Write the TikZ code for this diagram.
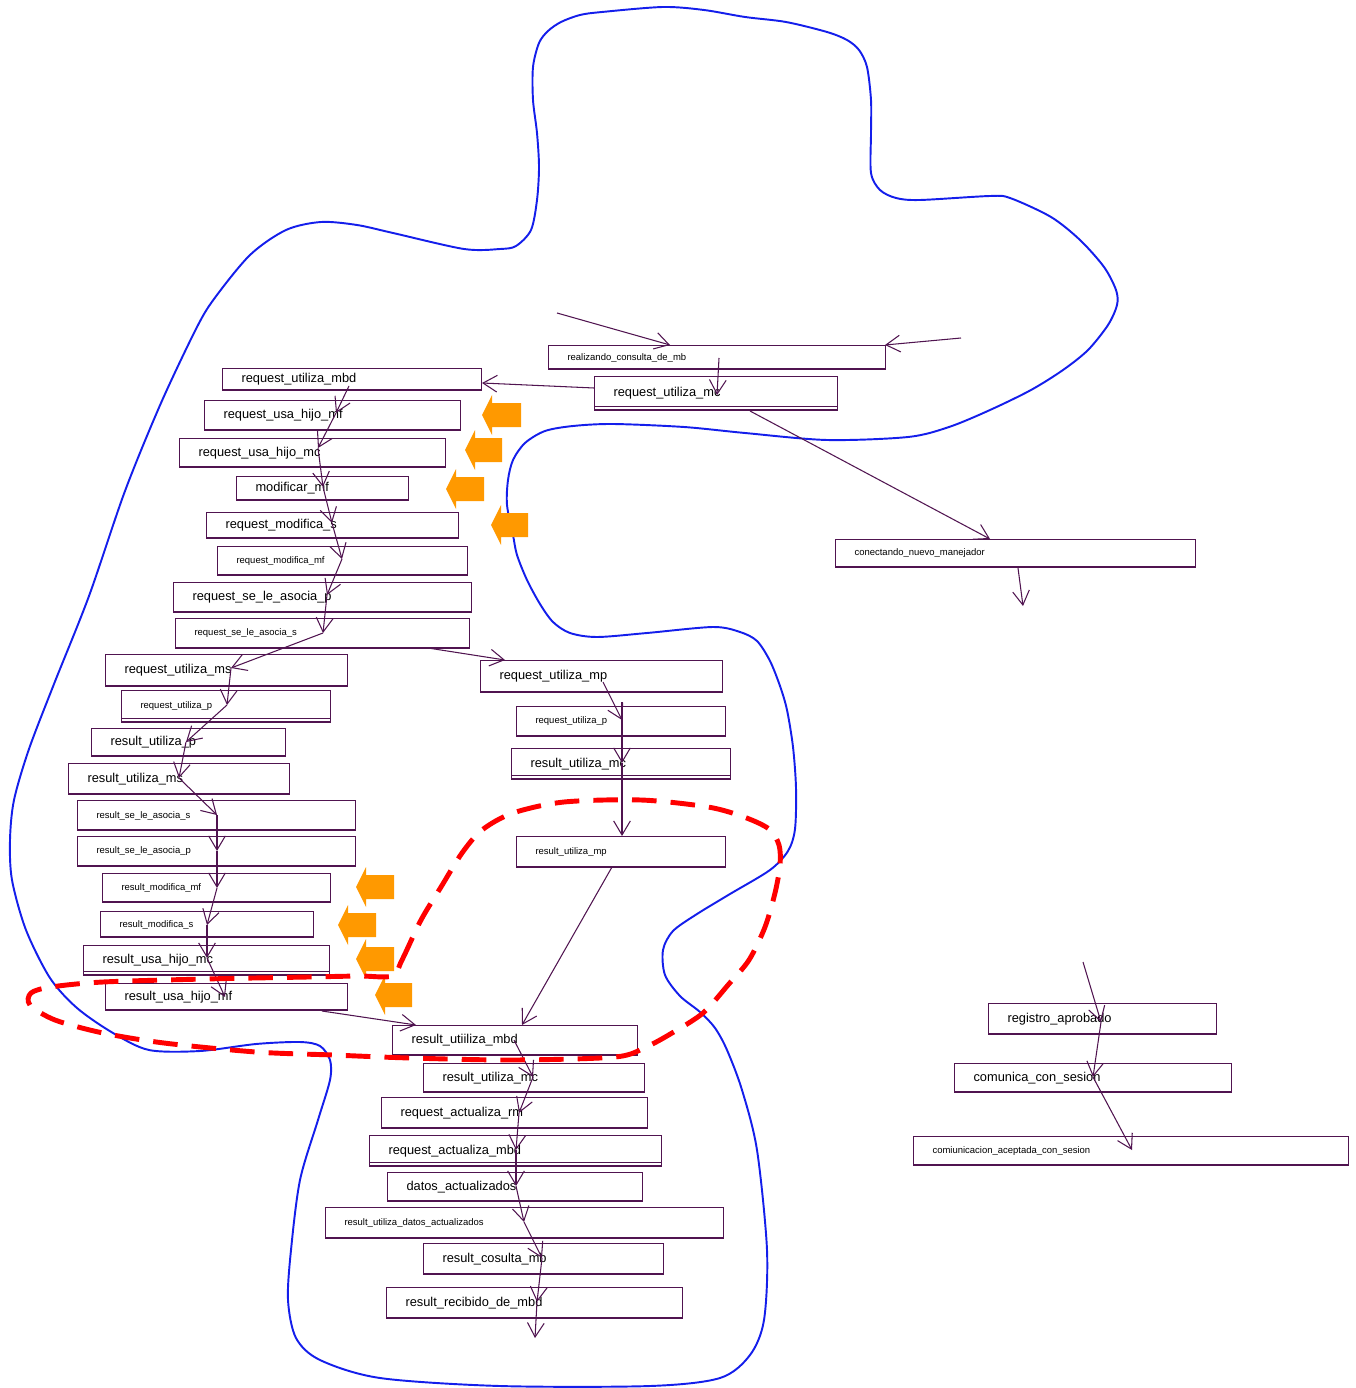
\documentclass[tikz,border=0pt]{standalone}
\usepackage{fontspec}
\setmainfont{Liberation Sans}
\usetikzlibrary{arrows.meta}
\definecolor{linha}{RGB}{80,20,80}
\definecolor{laranja}{RGB}{255,153,0}
\definecolor{azul}{RGB}{20,30,235}
\newcommand{\grande}{\fontsize{7.3}{8.5}\selectfont}
\newcommand{\miuda}{\fontsize{5.4}{6.5}\selectfont}

\begin{document}
\begin{tikzpicture}[x=0.02cm, y=-0.02cm,
    caixa/.style 2 args={draw=linha, line width=0.6pt, anchor=north west, align=left,
        inner xsep=0.38cm, inner ysep=0pt, text width={(#1-38)*0.02cm},
        minimum height={#2*0.02cm}, font=\grande,
        path picture={\draw[linha, line width=1.2pt] (path picture bounding box.south west) -- (path picture bounding box.south east);}},
    miuda/.style={font=\miuda},
    dupla/.style={path picture={
        \draw[linha, line width=1.2pt] (path picture bounding box.south west) -- (path picture bounding box.south east);
        \draw[linha, line width=0.6pt] ([yshift=2.3pt]path picture bounding box.south west) -- ([yshift=2.3pt]path picture bounding box.south east);}},
    seta/.style={draw=linha, line width=0.6pt, -{Straight Barb[length=8pt,width=9.5pt]}},
    bloco/.style={fill=laranja},
    contorno/.style={draw=azul, line width=1.1pt},
    grupo/.style={draw=red, line width=2.8pt, dash pattern=on 14pt off 8pt}]
    \useasboundingbox (0,0) rectangle (1355,1388);

    % Linha azul
    \draw[contorno] plot[smooth cycle, tension=0.5] coordinates {
        (321,222) (357,225) (393,233) (464,249) (500,249) (516,246) (531,230) (537,200)
        (539,167) (537,133) (533,100) (533,67) (539,43) (548,31) (561,22) (580,15)
        (602,12) (663,7) (704,10) (745,17) (786,22) (827,32) (847,40) (859,50) (867,67)
        (871,100) (871,133) (871,173) (880,190) (896,198) (920,200) (990,196) (1010,198)
        (1051,217) (1080,240) (1104,267) (1116,290) (1117,305) (1108,325) (1088,350)
        (1063,370) (1031,390) (990,410) (949,427) (908,437) (827,440) (745,433) (684,427)
        (613,424) (573,426) (545,431) (525,443) (513,460) (508,480) (507,505) (513,535)
        (517,555) (527,580) (540,604) (553,622) (570,633) (597,637) (647,633) (713,627)
        (740,632) (757,641) (770,661) (780,686) (787,710) (793,747) (796,788) (795,829)
        (788,851) (770,870) (730,894) (697,914) (673,931) (663,950) (665,975) (680,996)
        (700,1012) (715,1028) (727,1050) (742,1090) (757,1150) (767,1250) (764,1320)
        (750,1355) (720,1378) (650,1386) (500,1386) (380,1378) (320,1360) (296,1338)
        (288,1300) (291,1250) (300,1180) (318,1120) (330,1080) (330,1060) (320,1046)
        (300,1042) (256,1044) (200,1051) (149,1050) (113,1033) (77,1008) (50,978)
        (26,930) (12,880) (10,840) (14,800) (29,749) (54,684) (89,596) (125,491)
        (161,403) (196,329) (214,299) (250,255) (286,230)};

    % Estados
    \node[caixa={337}{24}, miuda] (realiza) at (548,345) {realizando\_consulta\_de\_mb};
    \node[caixa={243}{34}, dupla] (rumc) at (594,376) {request\_utiliza\_mc};
    \node[caixa={360}{28}, miuda] (conect) at (835,539) {conectando\_nuevo\_manejador};
    \node[caixa={259}{22}] (rumbd) at (222,368) {request\_utiliza\_mbd};
    \node[caixa={256}{30}] (ruhmf) at (204,400) {request\_usa\_hijo\_mf};
    \node[caixa={266}{29}] (ruhmc) at (179,438) {request\_usa\_hijo\_mc};
    \node[caixa={172}{24}] (modmf) at (236,476) {modificar\_mf};
    \node[caixa={252}{26}] (rmods) at (206,512) {request\_modifica\_s};
    \node[caixa={250}{29}, miuda] (rmodmf) at (217,546) {request\_modifica\_mf};
    \node[caixa={298}{30}] (rsap) at (173,582) {request\_se\_le\_asocia\_p};
    \node[caixa={294}{30}, miuda] (rsas) at (175,618) {request\_se\_le\_asocia\_s};
    \node[caixa={242}{32}] (rums) at (105,654) {request\_utiliza\_ms};
    \node[caixa={209}{32}, miuda, dupla] (rup) at (121,690) {request\_utiliza\_p};
    \node[caixa={194}{28}] (resup) at (91,728) {result\_utiliza\_p};
    \node[caixa={221}{31}] (resums) at (68,763) {result\_utiliza\_ms};
    \node[caixa={278}{30}, miuda] (ressas) at (77,800) {result\_se\_le\_asocia\_s};
    \node[caixa={278}{30}, miuda] (ressap) at (77,836) {result\_se\_le\_asocia\_p};
    \node[caixa={228}{29}, miuda] (resmodmf) at (102,873) {result\_modifica\_mf};
    \node[caixa={213}{26}, miuda] (resmods) at (100,911) {result\_modifica\_s};
    \node[caixa={246}{30}, dupla] (resuhmc) at (83,945) {result\_usa\_hijo\_mc};
    \node[caixa={242}{27}] (resuhmf) at (105,983) {result\_usa\_hijo\_mf};
    \node[caixa={242}{32}] (rump) at (480,660) {request\_utiliza\_mp};
    \node[caixa={209}{30}, miuda] (rupd) at (516,706) {request\_utiliza\_p};
    \node[caixa={219}{31}, dupla] (resumcd) at (511,748) {result\_utiliza\_mc};
    \node[caixa={209}{31}, miuda] (resumpd) at (516,836) {result\_utiliza\_mp};
    \node[caixa={245}{30}] (resumbd) at (392,1025) {result\_utiiliza\_mbd};
    \node[caixa={221}{29}] (resumc) at (423,1063) {result\_utiliza\_mc};
    \node[caixa={266}{31}] (racrm) at (381,1097) {request\_actualiza\_rm};
    \node[caixa={292}{31}, dupla] (racmbd) at (369,1135) {request\_actualiza\_mbd};
    \node[caixa={255}{29}] (datos) at (387,1172) {datos\_actualizados};
    \node[caixa={398}{31}, miuda] (resdatos) at (325,1207) {result\_utiliza\_datos\_actualizados};
    \node[caixa={240}{31}] (rescons) at (423,1243) {result\_cosulta\_mb};
    \node[caixa={296}{31}] (resrec) at (386,1287) {result\_recibido\_de\_mbd};
    \node[caixa={228}{31}] (regis) at (988,1003) {registro\_aprobado};
    \node[caixa={277}{29}] (comun) at (954,1063) {comunica\_con\_sesion};
    \node[caixa={435}{29}, miuda] (comiun) at (913,1136) {comiunicacion\_aceptada\_con\_sesion};

    % Pontas soltas
    \coordinate (ini1) at (557,313);
    \coordinate (ini2) at (961,338);
    \coordinate (fim1) at (1023,606);
    \coordinate (ini3) at (1083,962);
    \coordinate (fim2) at (535,1338);

    % Setas do topo
    \draw[seta] (ini1) -- ([shift={(122,0)}]realiza.north west);
    \draw[seta] (ini2) -- ([shift={(337,0)}]realiza.north west);
    \draw[seta] ([shift={(171,13)}]realiza.north west) -- ([shift={(123,19)}]rumc.north west);
    \draw[seta] ([shift={(0,12)}]rumc.north west) -- ([shift={(260,15)}]rumbd.north west);
    \draw[seta] ([shift={(156,35)}]rumc.north west) -- ([shift={(155,0)}]conect.north west);
    \draw[seta] ([shift={(183,29)}]conect.north west) -- (fim1);

    % Cadeia da esquerda
    \draw[seta] ([shift={(127,18)}]rumbd.north west) -- ([shift={(132,13)}]ruhmf.north west);
    \draw[seta] ([shift={(132,13)}]ruhmf.north west) -- ([shift={(139,10)}]ruhmc.north west);
    \draw[seta] ([shift={(139,10)}]ruhmc.north west) -- ([shift={(87,11)}]modmf.north west);
    \draw[seta] ([shift={(87,11)}]modmf.north west) -- ([shift={(126,11)}]rmods.north west);
    \draw[seta] ([shift={(126,11)}]rmods.north west) -- ([shift={(125,13)}]rmodmf.north west);
    \draw[seta] ([shift={(125,13)}]rmodmf.north west) -- ([shift={(154,13)}]rsap.north west);
    \draw[seta] ([shift={(154,13)}]rsap.north west) -- ([shift={(148,15)}]rsas.north west);
    \draw[seta] ([shift={(148,15)}]rsas.north west) -- ([shift={(126,14)}]rums.north west);
    \draw[seta] ([shift={(126,14)}]rums.north west) -- ([shift={(106,15)}]rup.north west);
    \draw[seta] ([shift={(106,15)}]rup.north west) -- ([shift={(95,14)}]resup.north west);
    \draw[seta] ([shift={(95,14)}]resup.north west) -- ([shift={(111,15)}]resums.north west);
    \draw[seta] ([shift={(111,15)}]resums.north west) -- ([shift={(140,15)}]ressas.north west);
    \draw[seta] ([shift={(140,15)}]ressas.north west) -- ([shift={(140,15)}]ressap.north west);
    \draw[seta] ([shift={(140,15)}]ressap.north west) -- ([shift={(115,15)}]resmodmf.north west);
    \draw[seta] ([shift={(115,15)}]resmodmf.north west) -- ([shift={(107,14)}]resmods.north west);
    \draw[seta] ([shift={(107,14)}]resmods.north west) -- ([shift={(124,13)}]resuhmc.north west);
    \draw[seta] ([shift={(124,13)}]resuhmc.north west) -- ([shift={(120,14)}]resuhmf.north west);
    \draw[seta] ([shift={(217,28)}]resuhmf.north west) -- ([shift={(24,0)}]resumbd.north west);

    % Coluna do meio
    \draw[seta] ([shift={(253,30)}]rsas.north west) -- ([shift={(25,0)}]rump.north west);
    \draw[seta] ([shift={(123,22)}]rump.north west) -- ([shift={(106,14)}]rupd.north west);
    \draw[seta] ([shift={(106,-4)}]rupd.north west) -- ([shift={(111,15)}]resumcd.north west);
    \draw[seta] ([shift={(111,15)}]resumcd.north west) -- ([shift={(106,0)}]resumpd.north west);
    \draw[seta] ([shift={(96,31)}]resumpd.north west) -- ([shift={(130,0)}]resumbd.north west);

    % Cadeia de baixo
    \draw[seta] ([shift={(122,15)}]resumbd.north west) -- ([shift={(110,14)}]resumc.north west);
    \draw[seta] ([shift={(110,14)}]resumc.north west) -- ([shift={(138,16)}]racrm.north west);
    \draw[seta] ([shift={(138,16)}]racrm.north west) -- ([shift={(147,15)}]racmbd.north west);
    \draw[seta] ([shift={(147,15)}]racmbd.north west) -- ([shift={(129,14)}]datos.north west);
    \draw[seta] ([shift={(129,14)}]datos.north west) -- ([shift={(199,15)}]resdatos.north west);
    \draw[seta] ([shift={(199,15)}]resdatos.north west) -- ([shift={(119,15)}]rescons.north west);
    \draw[seta] ([shift={(119,15)}]rescons.north west) -- ([shift={(151,15)}]resrec.north west);
    \draw[seta] ([shift={(151,15)}]resrec.north west) -- (fim2);

    % Sesion
    \draw[seta] (ini3) -- ([shift={(113,19)}]regis.north west);
    \draw[seta] ([shift={(113,19)}]regis.north west) -- ([shift={(139,14)}]comun.north west);
    \draw[seta] ([shift={(139,14)}]comun.north west) -- ([shift={(219,14)}]comiun.north west);

    % Setas laranja
    \fill[bloco] (482,415) -- ++(10,-20) -- ++(0,8) -- ++(29,0) -- ++(0,24) -- ++(-29,0) -- ++(0,8) -- cycle;
    \fill[bloco] (465,450) -- ++(10,-20) -- ++(0,8) -- ++(27,0) -- ++(0,24) -- ++(-27,0) -- ++(0,8) -- cycle;
    \fill[bloco] (446,489) -- ++(10,-20) -- ++(0,8) -- ++(28,0) -- ++(0,24) -- ++(-28,0) -- ++(0,8) -- cycle;
    \fill[bloco] (491,525) -- ++(10,-20) -- ++(0,8) -- ++(27,0) -- ++(0,24) -- ++(-27,0) -- ++(0,8) -- cycle;
    \fill[bloco] (356,887) -- ++(10,-20) -- ++(0,8) -- ++(28,0) -- ++(0,24) -- ++(-28,0) -- ++(0,8) -- cycle;
    \fill[bloco] (338,925) -- ++(10,-20) -- ++(0,8) -- ++(28,0) -- ++(0,24) -- ++(-28,0) -- ++(0,8) -- cycle;
    \fill[bloco] (356,959) -- ++(10,-20) -- ++(0,8) -- ++(28,0) -- ++(0,24) -- ++(-28,0) -- ++(0,8) -- cycle;
    \fill[bloco] (375,995) -- ++(10,-20) -- ++(0,8) -- ++(27,0) -- ++(0,24) -- ++(-27,0) -- ++(0,8) -- cycle;

    % Linha vermelha tracejada
    \draw[grupo] plot[smooth cycle, tension=0.5] coordinates {
        (392,976) (402,960) (421,920) (441,887) (462,853) (482,830) (513,813) (564,802)
        (641,800) (708,807) (744,817) (769,829) (779,845) (780,865) (775,893) (765,927)
        (749,960) (728,985) (703,1013) (672,1033) (646,1047) (615,1057) (513,1060)
        (410,1058) (333,1055) (256,1052) (164,1043) (103,1033) (55,1020) (30,1005)
        (31,993) (51,987) (103,982) (205,979) (308,977) (359,976)};
\end{tikzpicture}
\end{document}
